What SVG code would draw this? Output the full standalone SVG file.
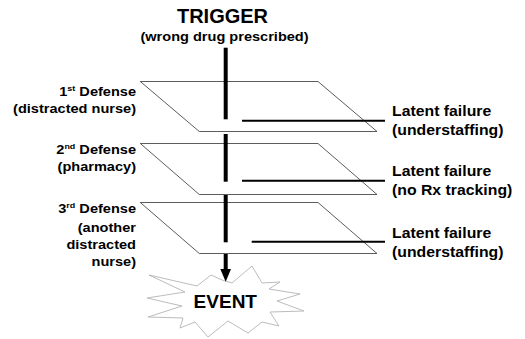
<svg xmlns="http://www.w3.org/2000/svg" width="525" height="339" viewBox="0 0 525 339">
<style>
text{font-family:"Liberation Sans",Arial,sans-serif;font-weight:bold;fill:#000}
.plane{fill:none;stroke:#4a4a4a;stroke-width:0.9}
.beam{stroke:#000;stroke-width:4;fill:none}
.latent{stroke:#000;stroke-width:2;fill:none}
.small{font-size:13px}
.right{font-size:14px}
.sup{font-size:8px}
</style>
<rect width="525" height="339" fill="#fff"/>

<g id="trigger">
<text x="222.5" y="23.3" font-size="20" text-anchor="middle">TRIGGER</text>
<g transform="translate(224.5 40.7) scale(1.12 1)"><text class="small" x="0" y="0" text-anchor="middle">(wrong drug prescribed)</text></g>
</g>

<g id="defense1">
<polygon class="plane" points="140.3,81.5 318,81.5 377,131.5 199.3,131.5"/>
<g transform="translate(136 0) scale(1.12 1)">
<text class="small" x="0" y="96" text-anchor="end">1<tspan class="sup" dy="-5">st</tspan><tspan dy="5"> Defense</tspan></text>
<text class="small" x="0" y="113" text-anchor="end">(distracted nurse)</text>
</g>
</g>

<g id="defense2">
<polygon class="plane" points="140.3,143.5 318,143.5 377,194.5 199.3,194.5"/>
<g transform="translate(136 0) scale(1.12 1)">
<text class="small" x="0" y="154" text-anchor="end">2<tspan class="sup" dy="-5">nd</tspan><tspan dy="5"> Defense</tspan></text>
<text class="small" x="0" y="171" text-anchor="end">(pharmacy)</text>
</g>
</g>

<g id="defense3">
<polygon class="plane" points="140.3,202.5 318,202.5 377,253.5 199.3,253.5"/>
<g transform="translate(136 0) scale(1.12 1)">
<text class="small" x="0" y="213.3" text-anchor="end">3<tspan class="sup" dy="-5">rd</tspan><tspan dy="5"> Defense</tspan></text>
<text class="small" x="0" y="232" text-anchor="end">(another</text>
<text class="small" x="0" y="249" text-anchor="end">distracted</text>
<text class="small" x="0" y="266" text-anchor="end">nurse)</text>
</g>
</g>

<g id="latent1">
<g transform="translate(392 0) scale(1.13 1)">
<text class="right" x="0" y="116">Latent failure</text>
<text class="right" x="0" y="135">(understaffing)</text>
</g>
</g>

<g id="latent2">
<g transform="translate(392 0) scale(1.13 1)">
<text class="right" x="0" y="176">Latent failure</text>
<text class="right" x="0" y="195">(no Rx tracking)</text>
</g>
</g>

<g id="latent3">
<g transform="translate(392 0) scale(1.13 1)">
<text class="right" x="0" y="238">Latent failure</text>
<text class="right" x="0" y="257.5">(understaffing)</text>
</g>
</g>

<g id="event">
<polygon fill="#fff" stroke="#b4b4b4" stroke-width="0.9" points="252,266 262,283 280,282 269,289 300,294 277,301 304,311 270,312 279,326 262,322 248,333 228,321 208,337 195,322 180,328 183,318 148,317 182,306 147,298 185,292 149,275 197,286 211,275 222,280 232,283"/>
<text x="225.3" y="308.3" font-size="19" text-anchor="middle">EVENT</text>
</g>

<g id="connectors">
<line class="beam" x1="225.7" y1="47.7" x2="225.7" y2="119.3"/>
<line class="beam" x1="225.7" y1="134" x2="225.7" y2="181.7"/>
<line class="beam" x1="225.7" y1="195" x2="225.7" y2="242.3"/>
<line class="beam" x1="225.7" y1="254" x2="225.7" y2="270"/>
<polygon fill="#000" points="220.3,269 231,269 225.7,281.7"/>
<line class="latent" x1="242" y1="120.7" x2="385" y2="120.7"/>
<line class="latent" x1="242" y1="180.7" x2="385" y2="180.7"/>
<line class="latent" x1="251.7" y1="241.7" x2="385" y2="241.7"/>
</g>
</svg>
